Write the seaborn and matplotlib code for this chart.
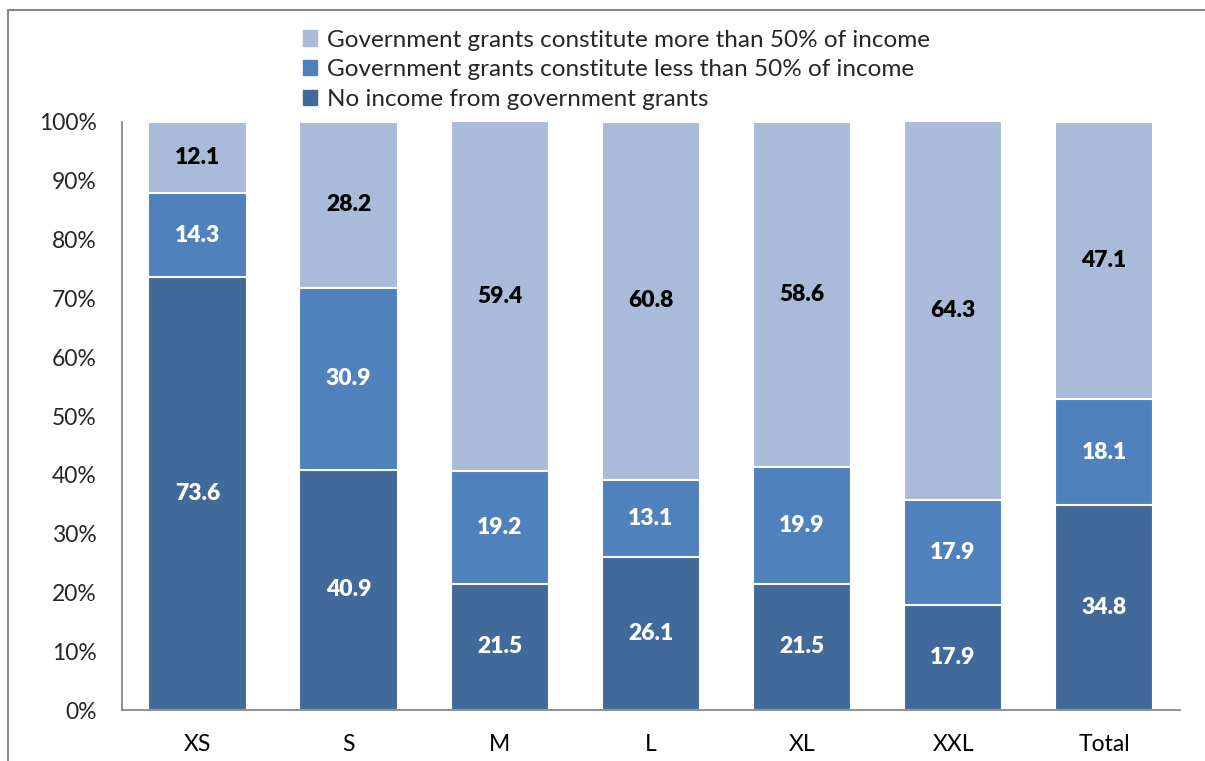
import matplotlib
matplotlib.use("Agg")
import matplotlib.pyplot as plt
import matplotlib.patches as mpatches
import numpy as np
import pandas as pd
import seaborn as sns

# ===== data =====
categories = ["XS", "S", "M", "L", "XL", "XXL", "Total"]
no_income = [73.6, 40.9, 21.5, 26.1, 21.5, 17.9, 34.8]
less_50 = [14.3, 30.9, 19.2, 13.1, 19.9, 17.9, 18.1]
more_50 = [12.1, 28.2, 59.4, 60.8, 58.6, 64.3, 47.1]

series_names = [
    "No income from government grants",
    "Government grants constitute less than 50% of income",
    "Government grants constitute more than 50% of income",
]
colors = ["#41699a", "#4f81bd", "#aabad9"]
label_colors = ["white", "white", "black"]

sns.set_theme(style="white")
plt.rcParams['font.family'] = ['Lato', 'DejaVu Sans']

df = pd.DataFrame({"cat": categories, "a": no_income, "b": less_50, "c": more_50})
df["cum_a"] = df["a"]
df["cum_b"] = df["a"] + df["b"]
df["cum_c"] = df["a"] + df["b"] + df["c"]

fig = plt.figure(figsize=(12.05, 7.61), dpi=100)
ax = fig.add_axes([0.1012, 0.067, 0.8778, 0.7727])

# draw stacked bars as overlapping cumulative bars (top segment first)
for col, color in zip(["cum_c", "cum_b", "cum_a"], colors[::-1]):
    sns.barplot(data=df, x="cat", y=col, color=color, width=0.65,
                edgecolor="white", linewidth=1.5, ax=ax, saturation=1)

# value labels
for i in range(len(categories)):
    bottom = 0
    for vals, lc in zip([no_income, less_50, more_50], label_colors):
        v = vals[i]
        ax.text(i, min(bottom + v / 2, bottom + (100 - bottom) / 2), f"{v:.1f}",
                ha="center", va="center", color=lc, fontsize=16.5, fontweight="heavy")
        bottom += v

ax.set_ylim(0, 100)
ax.set_xlim(-0.5, len(categories) - 0.5)
ax.set_yticks(np.arange(0, 101, 10))
ax.set_yticklabels([f"{t}%" for t in range(0, 101, 10)], fontsize=16.5)
ax.set_xticks(range(len(categories)))
ax.set_xticklabels(categories, fontsize=16.5)
ax.set_xticks(np.arange(-0.5, len(categories), 1), minor=True)
ax.tick_params(axis="x", which="major", length=0, pad=17, colors="black")
ax.tick_params(axis="x", which="minor", length=8, width=1.3, color="#888888", direction="out")
ax.tick_params(axis="y", length=8, width=1.3, color="#888888", direction="out", pad=10)
ax.set_xlabel("")
ax.set_ylabel("")
for s in ["top", "right"]:
    ax.spines[s].set_visible(False)
for s in ["left", "bottom"]:
    ax.spines[s].set_color("#888888")
    ax.spines[s].set_linewidth(1.3)

# legend
handles = [mpatches.Patch(color=c, label=n) for c, n in zip(colors, series_names)][::-1]
fig.legend(handles=handles, loc="upper left", bbox_to_anchor=(0.243, 0.974),
           frameon=False, fontsize=17.5, handlelength=0.6, handleheight=0.6,
           handletextpad=0.4, labelspacing=0.36, borderaxespad=0)

# outer chart frame
fig.add_artist(plt.Line2D([8 / 1205, 8 / 1205], [0, 1 - 10 / 761], color="#888888",
                          lw=1.5, transform=fig.transFigure))
fig.add_artist(plt.Line2D([8 / 1205, 1], [1 - 10 / 761, 1 - 10 / 761], color="#888888",
                          lw=1.5, transform=fig.transFigure))

fig.savefig("out.png", dpi=100)
